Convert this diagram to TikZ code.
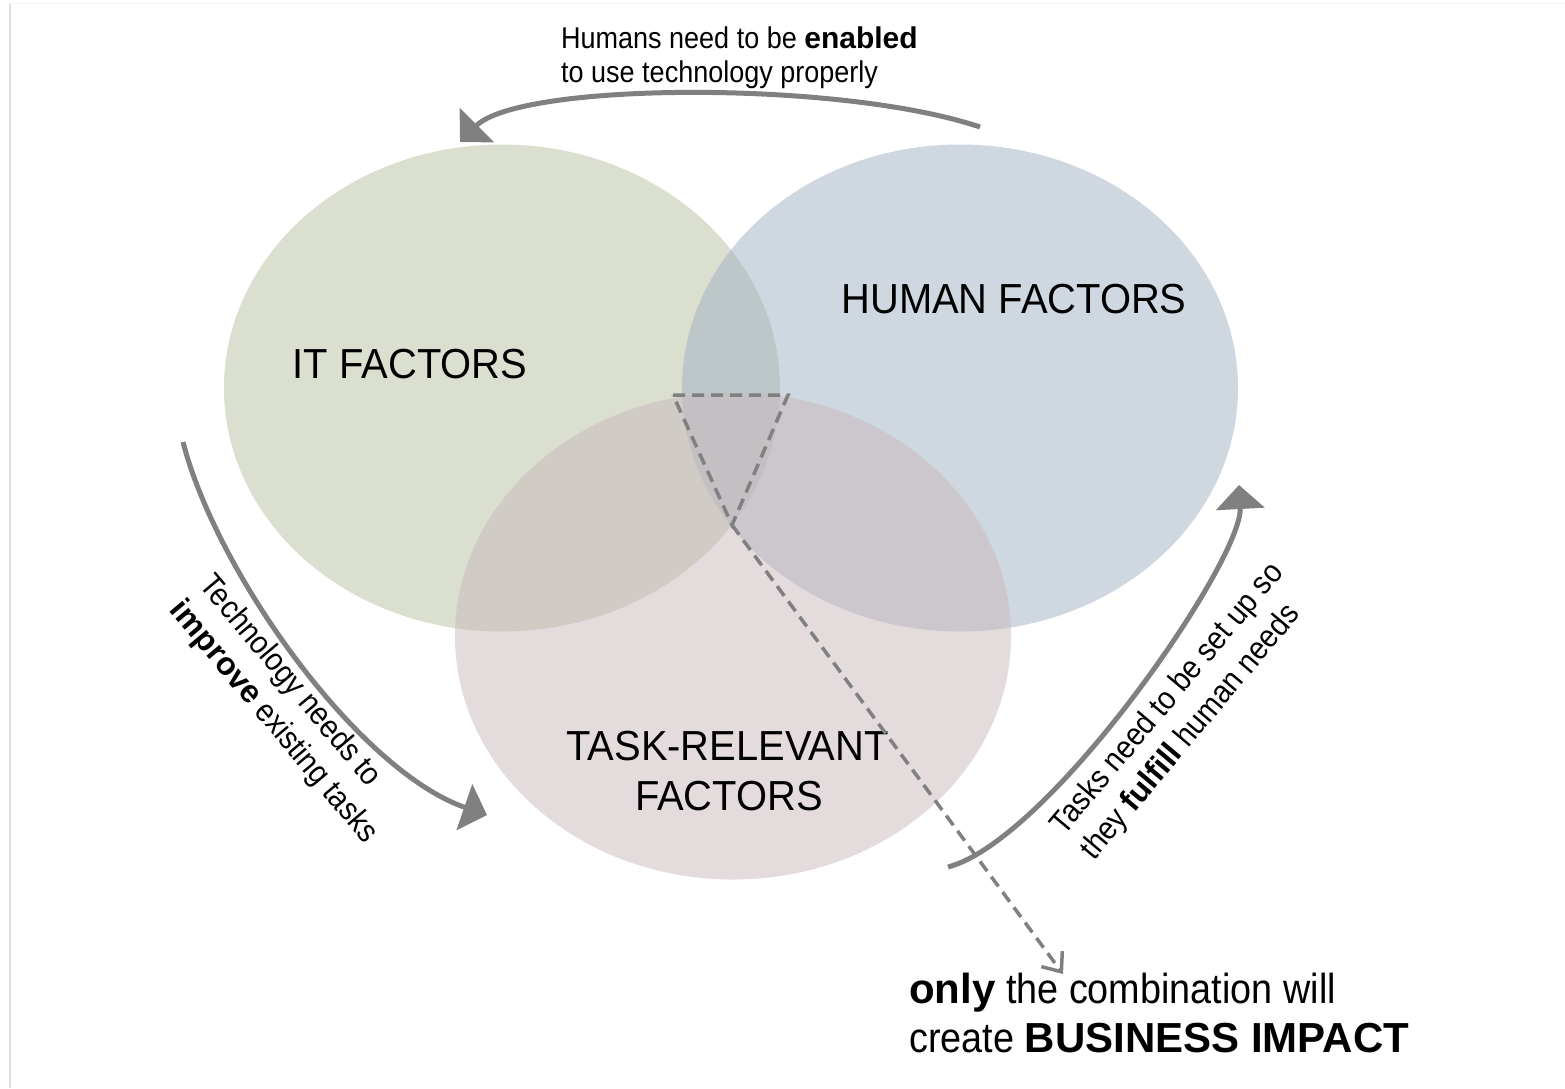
\documentclass[tikz,border=0pt]{standalone}
\usepackage{fontspec}
\setmainfont{Liberation Sans}[FakeStretch=0.9]
\newfontfamily\widefam{Liberation Sans}
\newfontfamily\labelfam{Liberation Sans}[FakeStretch=0.95]
\usetikzlibrary{arrows.meta,shapes.geometric}
\definecolor{arrgray}{RGB}{128,128,128}
\definecolor{itfill}{RGB}{185,193,163}
\definecolor{humfill}{RGB}{161,177,197}
\definecolor{taskfill}{RGB}{201,185,187}
\newcommand{\hb}[1]{{\widefam\bfseries #1}}
\begin{document}
\begin{tikzpicture}[x=1pt,y=-1pt,
  venn/.style={ellipse, minimum width=556pt, minimum height=487pt, inner sep=0pt, fill opacity=0.5},
  biglabel/.style={font=\labelfam\fontsize{42}{50}\selectfont, inner sep=0pt, anchor=base},
  toptext/.style={font=\fontsize{30}{34}\selectfont, inner sep=0pt, anchor=base west},
  bottomtext/.style={font=\fontsize{42}{49}\selectfont, inner sep=0pt, anchor=base west},
  sidetext/.style={font=\fontsize{32}{39}\selectfont, align=left, inner sep=0pt},
  bigarrow/.style={draw=arrgray, line width=5pt, -{Triangle[width=48pt,length=24pt]}},
  dashline/.style={draw=arrgray, line width=3.5pt, dash pattern=on 12pt off 7pt},
]
\useasboundingbox (0,0) rectangle (1565,1088);
\fill[white] (0,0) rectangle (1565,1088);
% page edge
\draw[black!13, line width=2pt] (9.5,4) -- (9.5,1088);
\draw[black!5, line width=1pt] (10,3.5) -- (1565,3.5);
% ellipses
\node[venn, fill=itfill] (itell) at (502,388) {};
\node[venn, fill=humfill] (humell) at (960,388) {};
\node[venn, fill=taskfill] (taskell) at (733,636) {};
% labels
\node[biglabel] (itlab) at (410,378) {IT FACTORS};
\node[biglabel] (humlab) at (1014,313) {HUMAN FACTORS};
\node[biglabel] (tasklab1) at (727.5,760) {TASK-RELEVANT};
\node[biglabel] (tasklab2) at (729,810) {FACTORS};
% top text
\node[toptext] (top1) at (561,48) {Humans need to be \hb{enabled}};
\node[toptext] (top2) at (561,82) {to use technology properly};
% side texts
\node[sidetext, rotate=-50] (lefttext) at (288,710) {Technology needs to\\\hb{improve} existing tasks};
\node[sidetext, rotate=50] (righttext) at (1183,712) {Tasks need to be set up so\\they \hb{fulfill} human needs};
% bottom text
\node[bottomtext] (bot1) at (909,1003) {\hb{only} the combination will};
\node[bottomtext] (bot2) at (909,1052) {create \hb{BUSINESS IMPACT}};
% arrows
\coordinate (topS) at (980,127);
\coordinate (topE) at (460,142);
\draw[bigarrow] (topS) .. controls (840,80) and (520,82) .. (topE);
\coordinate (leftS) at (183,442);
\coordinate (leftE) at (487,815);
\draw[bigarrow] (leftS) .. controls (217,574) and (359,771) .. (leftE);
\coordinate (rightS) at (948,867);
\coordinate (rightE) at (1239,485);
\draw[bigarrow] (rightS) .. controls (1050,840) and (1243,560) .. (rightE);
% dashed triangle and arrow
\coordinate (dA) at (673,395);
\coordinate (dB) at (788,395);
\coordinate (dC) at (732,525);
\coordinate (dEnd) at (1063,974);
\draw[dashline] (dA) -- (dB) -- (dC) -- cycle;
\draw[dashline, -{Straight Barb[length=16pt,width=26pt]}] (dC) -- (dEnd);
\end{tikzpicture}
\end{document}
